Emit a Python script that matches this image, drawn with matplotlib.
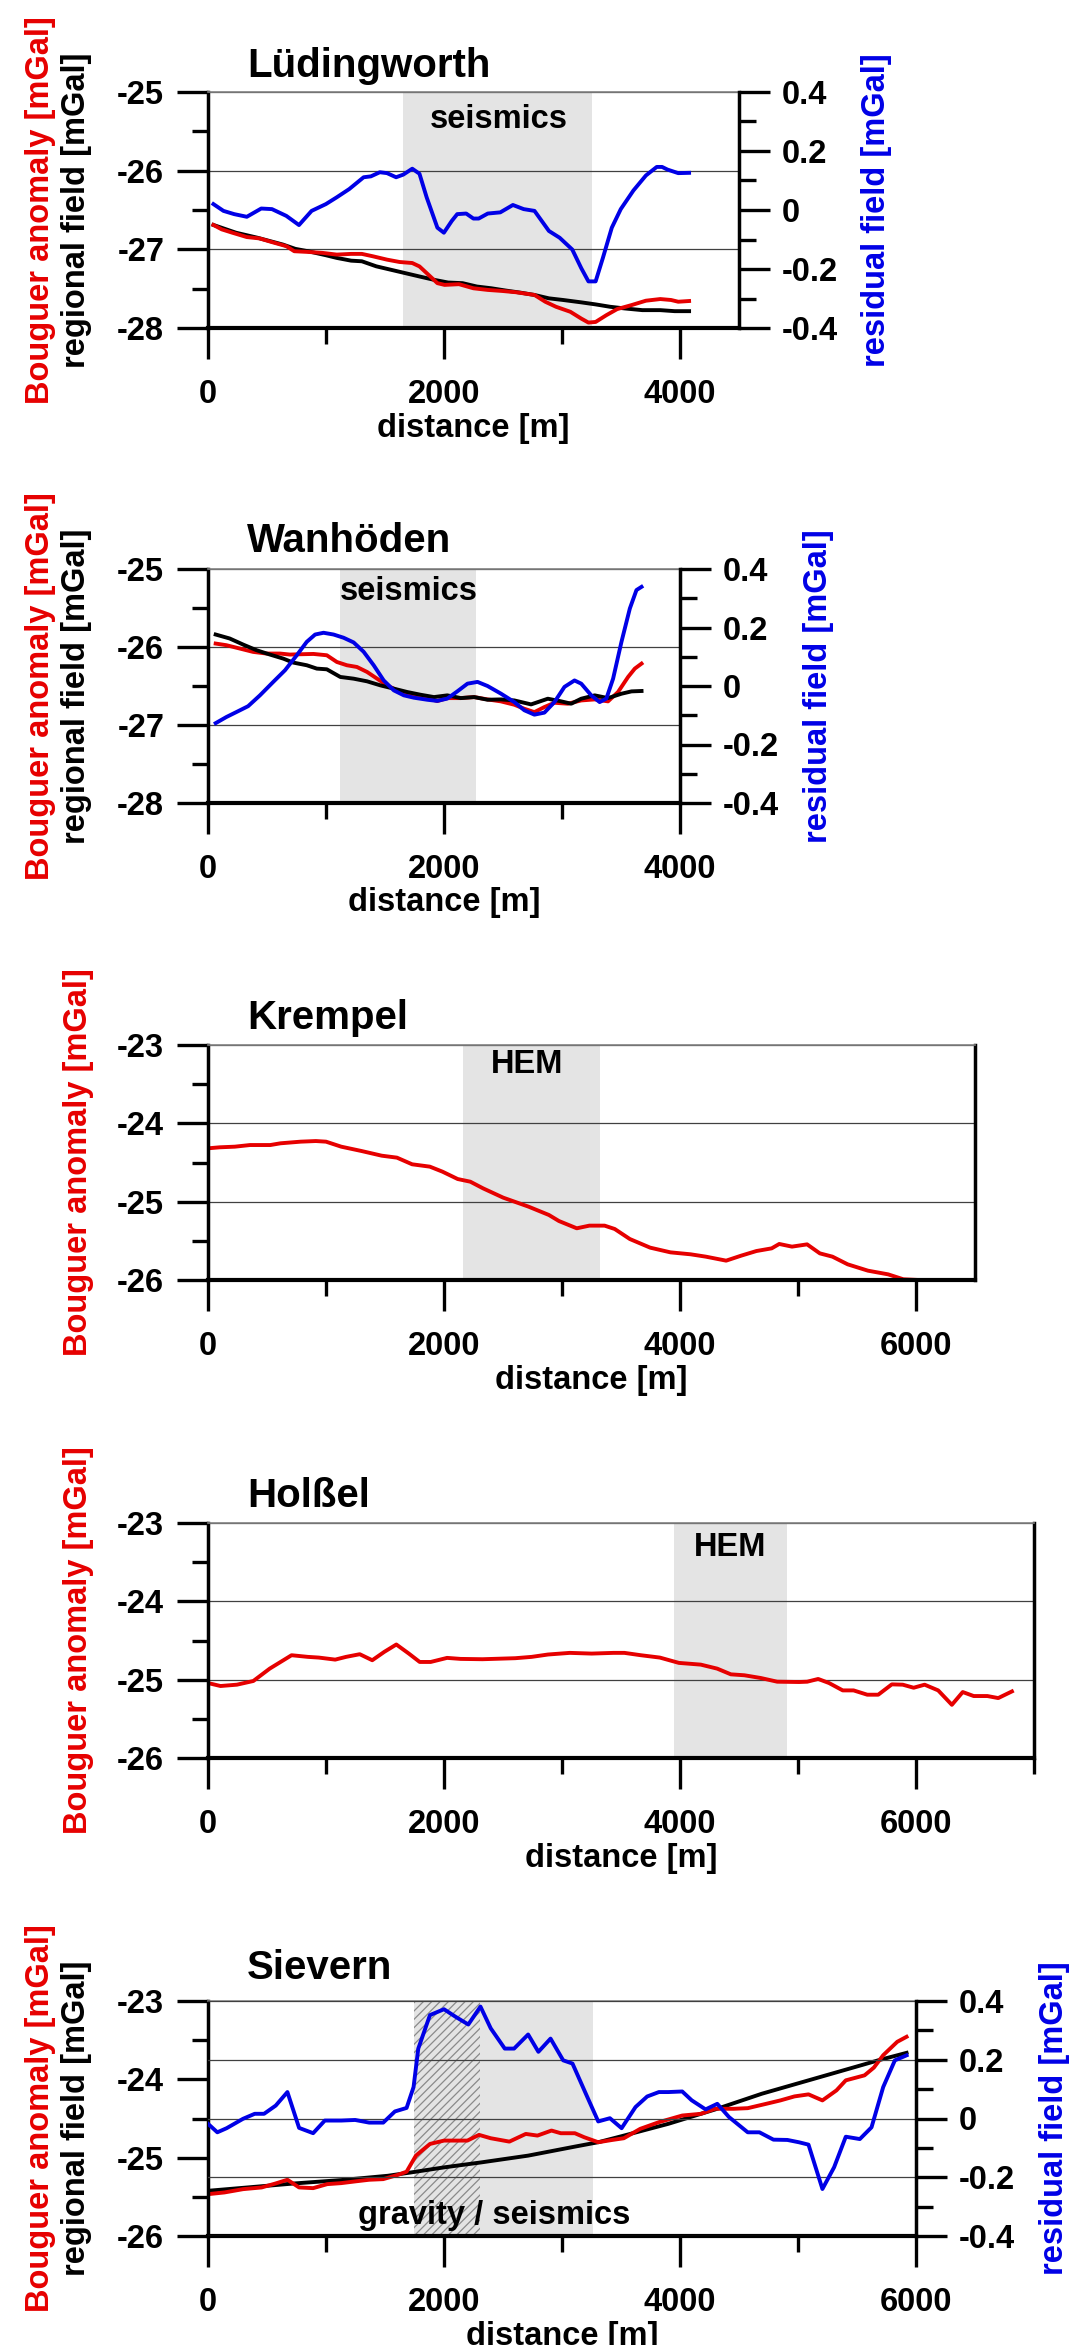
import matplotlib
matplotlib.use("Agg")
import matplotlib.pyplot as plt
from matplotlib.ticker import MultipleLocator, FuncFormatter

plt.rcParams["font.family"] = ["Liberation Sans", "DejaVu Sans"]
plt.rcParams["font.weight"] = "bold"
plt.rcParams["axes.unicode_minus"] = False
plt.rcParams["hatch.linewidth"] = 0.9

RED = "#e60000"
BLUE = "#0000e6"
BAND = "#e4e4e4"

# ---------------- data (distance in m, gravity in mGal) ----------------
LUED_BLUE_X = [46, 131, 222, 329, 451, 542, 664, 771, 878, 999, 1091, 1197, 1319, 1380, 1456,
               1517, 1594, 1655, 1731, 1792, 1853, 1944, 1999, 2066, 2112, 2188, 2249, 2294,
               2371, 2477, 2584, 2675, 2767, 2889, 2980, 3087, 3163, 3224, 3285, 3346, 3422,
               3498, 3605, 3711, 3803, 3848, 3894, 3985, 4077]
LUED_RESIDUAL = [0.020, -0.003, -0.014, -0.023, 0.005, 0.003, -0.020, -0.051, -0.003, 0.020,
                 0.043, 0.071, 0.111, 0.114, 0.128, 0.125, 0.111, 0.120, 0.140, 0.123, 0.043,
                 -0.060, -0.077, -0.037, -0.014, -0.012, -0.029, -0.029, -0.012, -0.008, 0.017,
                 0.003, -0.003, -0.071, -0.094, -0.134, -0.197, -0.242, -0.242, -0.163, -0.060,
                 0.003, 0.066, 0.117, 0.146, 0.146, 0.137, 0.125, 0.126]
LUED_RED_X = [46, 116, 207, 329, 436, 542, 664, 731, 847, 969, 1091, 1213, 1304, 1396, 1517,
              1624, 1731, 1792, 1853, 1944, 2005, 2127, 2249, 2371, 2492, 2614, 2767, 2858,
              2949, 3071, 3163, 3224, 3285, 3376, 3467, 3589, 3711, 3833, 3924, 3985, 4077]
LUED_BOUGUER = [-26.69, -26.746, -26.789, -26.844, -26.861, -26.908, -26.96, -27.024, -27.033,
                -27.045, -27.067, -27.058, -27.058, -27.088, -27.131, -27.161, -27.174, -27.217,
                -27.302, -27.43, -27.452, -27.443, -27.495, -27.516, -27.529, -27.546, -27.58,
                -27.666, -27.73, -27.794, -27.88, -27.931, -27.923, -27.837, -27.76, -27.709,
                -27.653, -27.632, -27.644, -27.666, -27.657]
LUED_BLACK_X = [46, 238, 420, 634, 740, 847, 999, 1091, 1213, 1304, 1426, 1548, 1670, 1792, 1914,
                2035, 2157, 2279, 2401, 2523, 2645, 2767, 2889, 3010, 3163, 3285, 3407, 3529,
                3681, 3833, 3955, 4077]
LUED_REGIONAL = [-26.69, -26.789, -26.853, -26.939, -26.994, -27.024, -27.075, -27.109, -27.144,
                 -27.152, -27.216, -27.259, -27.302, -27.345, -27.387, -27.422, -27.43, -27.473,
                 -27.495, -27.524, -27.55, -27.58, -27.623, -27.644, -27.674, -27.7, -27.73,
                 -27.751, -27.773, -27.773, -27.786, -27.786]
LUED_BAND = (1655, 3254)

WANH_BLUE_X = [65, 156, 241, 340, 440, 553, 653, 752, 837, 908, 979, 1064, 1149, 1234, 1319,
               1404, 1489, 1575, 1660, 1745, 1858, 1943, 2028, 2114, 2199, 2284, 2369, 2482,
               2596, 2681, 2766, 2851, 2936, 3021, 3106, 3163, 3248, 3319, 3376, 3433, 3504,
               3575, 3631, 3674]
WANH_RESIDUAL = [-0.127, -0.106, -0.089, -0.069, -0.032, 0.014, 0.054, 0.105, 0.151, 0.176,
                 0.182, 0.176, 0.165, 0.149, 0.117, 0.071, 0.019, -0.015, -0.032, -0.040,
                 -0.047, -0.051, -0.043, -0.018, 0.008, 0.014, 0.0, -0.026, -0.055, -0.083,
                 -0.098, -0.091, -0.055, -0.003, 0.019, 0.008, -0.032, -0.055, -0.043, 0.025,
                 0.151, 0.265, 0.328, 0.339]
WANH_RED_X = [65, 156, 270, 383, 496, 610, 695, 780, 894, 1007, 1092, 1177, 1262, 1348, 1433,
              1518, 1631, 1745, 1858, 1943, 2028, 2142, 2255, 2369, 2482, 2596, 2681, 2766,
              2851, 2936, 3050, 3163, 3277, 3390, 3475, 3560, 3617, 3674]
WANH_BOUGUER = [-25.956, -25.977, -26.02, -26.063, -26.084, -26.084, -26.097, -26.093, -26.089,
                -26.106, -26.192, -26.234, -26.256, -26.32, -26.406, -26.492, -26.577, -26.62,
                -26.655, -26.693, -26.655, -26.655, -26.642, -26.672, -26.697, -26.74, -26.792,
                -26.835, -26.77, -26.715, -26.727, -26.685, -26.672, -26.697, -26.577, -26.384,
                -26.277, -26.213]
WANH_BLACK_X = [65, 184, 298, 411, 525, 638, 723, 837, 922, 1007, 1121, 1234, 1348, 1461, 1575,
                1688, 1801, 1915, 2028, 2142, 2255, 2369, 2482, 2596, 2738, 2880, 2993, 3078,
                3163, 3277, 3390, 3504, 3589, 3674]
WANH_REGIONAL = [-25.84, -25.891, -25.969, -26.041, -26.097, -26.149, -26.2, -26.234, -26.277,
                 -26.286, -26.384, -26.406, -26.44, -26.492, -26.534, -26.577, -26.612, -26.642,
                 -26.62, -26.655, -26.642, -26.676, -26.672, -26.685, -26.736, -26.663, -26.697,
                 -26.727, -26.663, -26.62, -26.655, -26.599, -26.569, -26.564]
WANH_BAND = (1121, 2270)

KREM_X = [0, 99, 227, 356, 528, 614, 785, 914, 1000, 1129, 1300, 1472, 1601, 1730, 1880, 1987,
          2116, 2223, 2331, 2502, 2717, 2889, 2974, 3125, 3232, 3361, 3447, 3575, 3747, 3919,
          4090, 4219, 4391, 4519, 4648, 4777, 4841, 4949, 5077, 5185, 5292, 5421, 5593, 5764,
          5893, 6022, 6107]
KREM_BOUGUER = [-24.319, -24.306, -24.298, -24.277, -24.277, -24.255, -24.234, -24.226, -24.234,
                -24.298, -24.353, -24.413, -24.438, -24.523, -24.553, -24.617, -24.711, -24.745,
                -24.83, -24.949, -25.064, -25.17, -25.247, -25.34, -25.306, -25.306, -25.349,
                -25.477, -25.587, -25.647, -25.672, -25.702, -25.753, -25.689, -25.63, -25.596,
                -25.54, -25.574, -25.545, -25.66, -25.702, -25.8, -25.881, -25.928, -25.991,
                -26.0, -26.0]
KREM_BAND = (2159, 3318)

HOLS_X = [0, 106, 245, 384, 523, 708, 846, 939, 1078, 1170, 1286, 1392, 1494, 1596, 1702, 1794,
          1887, 2026, 2141, 2326, 2604, 2743, 2881, 3066, 3251, 3436, 3529, 3668, 3829, 3991,
          4176, 4315, 4431, 4546, 4685, 4824, 5009, 5078, 5171, 5263, 5379, 5471, 5587, 5680,
          5795, 5888, 5980, 6073, 6188, 6304, 6396, 6489, 6605, 6697, 6813]
HOLS_BOUGUER = [-25.043, -25.081, -25.064, -25.017, -24.859, -24.688, -24.709, -24.718, -24.744,
                -24.709, -24.675, -24.752, -24.645, -24.551, -24.667, -24.774, -24.774, -24.722,
                -24.735, -24.739, -24.726, -24.709, -24.679, -24.658, -24.667, -24.658, -24.658,
                -24.688, -24.718, -24.786, -24.808, -24.859, -24.932, -24.944, -24.979, -25.026,
                -25.03, -25.026, -24.991, -25.043, -25.137, -25.137, -25.192, -25.192, -25.06,
                -25.064, -25.103, -25.064, -25.137, -25.321, -25.158, -25.209, -25.209, -25.235,
                -25.15]
HOLS_BAND = (3945, 4903)

SIEV_BLUE_X = [0, 79, 158, 297, 396, 475, 574, 673, 772, 891, 990, 1129, 1247, 1366, 1485, 1584,
               1683, 1742, 1782, 1881, 2000, 2099, 2206, 2309, 2396, 2515, 2594, 2713, 2800,
               2903, 3010, 3089, 3208, 3307, 3406, 3505, 3623, 3722, 3821, 3901, 4019, 4099,
               4217, 4316, 4415, 4574, 4673, 4792, 4910, 5009, 5089, 5207, 5306, 5405, 5524,
               5623, 5722, 5821, 5920]
SIEV_RESIDUAL = [-0.018, -0.047, -0.033, -0.001, 0.016, 0.016, 0.044, 0.09, -0.032, -0.05,
                 -0.007, -0.007, -0.005, -0.014, -0.014, 0.024, 0.036, 0.107, 0.238, 0.352,
                 0.372, 0.346, 0.32, 0.381, 0.307, 0.238, 0.238, 0.286, 0.227, 0.272, 0.198,
                 0.187, 0.079, -0.01, 0.001, -0.033, 0.039, 0.075, 0.09, 0.09, 0.092, 0.062,
                 0.031, 0.05, 0.005, -0.047, -0.047, -0.072, -0.073, -0.081, -0.089, -0.24,
                 -0.166, -0.062, -0.07, -0.03, 0.107, 0.198, 0.215]
SIEV_RED_X = [0, 139, 297, 455, 574, 673, 772, 891, 1010, 1129, 1247, 1366, 1485, 1604, 1683,
              1762, 1881, 2000, 2198, 2297, 2396, 2554, 2693, 2792, 2911, 2990, 3109, 3188, 3307,
              3425, 3524, 3663, 3821, 4019, 4178, 4297, 4455, 4574, 4732, 4851, 4970, 5089,
              5207, 5326, 5405, 5564, 5643, 5722, 5841, 5920]
SIEV_BOUGUER = [-25.466, -25.444, -25.402, -25.38, -25.329, -25.282, -25.38, -25.389, -25.338,
                -25.325, -25.303, -25.282, -25.274, -25.222, -25.179, -24.974, -24.825, -24.782,
                -24.782, -24.709, -24.752, -24.795, -24.697, -24.718, -24.654, -24.688, -24.688,
                -24.739, -24.803, -24.774, -24.752, -24.632, -24.547, -24.462, -24.44, -24.376,
                -24.376, -24.368, -24.312, -24.269, -24.218, -24.192, -24.269, -24.141, -24.013,
                -23.949, -23.85, -23.692, -23.521, -23.457]
SIEV_BLACK_X = [0, 337, 733, 1129, 1525, 1723, 2000, 2317, 2713, 3109, 3307, 3505, 3901, 4297,
                4693, 5089, 5485, 5683, 5920]
SIEV_REGIONAL = [-25.423, -25.38, -25.329, -25.286, -25.231, -25.188, -25.124, -25.06, -24.974,
                 -24.859, -24.803, -24.726, -24.568, -24.385, -24.184, -24.013, -23.842, -23.756,
                 -23.662]
SIEV_BAND = (1742, 3259)
SIEV_HATCH = (1742, 2309)

# ---------------- layout ----------------
W, H = 1070, 2345
fig = plt.figure(figsize=(W / 100, H / 100), dpi=100)
fig.patch.set_facecolor("white")

LEFT = 208
PX_PER_KM = 118
TICK_FS = 23.5
LABEL_FS = 23.5


def fx(px):
    return px / W


def fy(py):
    return 1 - py / H


def int_fmt(v, _):
    return f"{int(round(v))}"


def dec_fmt(v, _):
    return f"{round(v, 1) + 0.0:g}"


def make_axes(top, bottom, xmax, ylim):
    right = LEFT + xmax / 1000 * PX_PER_KM
    ax = fig.add_axes([fx(LEFT), fy(bottom), (right - LEFT) / W, (bottom - top) / H])
    ax.set_xlim(0, xmax)
    ax.set_ylim(*ylim)
    ax.xaxis.set_major_locator(MultipleLocator(2000))
    ax.xaxis.set_minor_locator(MultipleLocator(1000))
    ax.yaxis.set_major_locator(MultipleLocator(1))
    ax.yaxis.set_minor_locator(MultipleLocator(0.5))
    ax.xaxis.set_major_formatter(FuncFormatter(int_fmt))
    ax.yaxis.set_major_formatter(FuncFormatter(int_fmt))
    ax.tick_params(which="major", direction="out", length=22.5, width=2.4, labelsize=TICK_FS)
    ax.tick_params(which="minor", direction="out", length=11.5, width=2.4)
    ax.tick_params(axis="x", which="major", pad=14)
    ax.tick_params(axis="y", which="major", pad=9)
    ax.tick_params(which="both", top=False, right=False)
    ax.spines["left"].set_linewidth(2.5)
    ax.spines["bottom"].set_linewidth(3.0)
    ax.spines["right"].set_linewidth(2.5)
    ax.spines["top"].set_color("#808080")
    ax.spines["top"].set_linewidth(1.2)
    ax.set_axisbelow(True)
    return ax, right


def add_twin(ax):
    ax2 = ax.twinx()
    ax2.set_ylim(-0.4, 0.4)
    ax2.yaxis.set_major_locator(MultipleLocator(0.2))
    ax2.yaxis.set_minor_locator(MultipleLocator(0.1))
    ax2.yaxis.set_major_formatter(FuncFormatter(dec_fmt))
    ax2.tick_params(which="major", direction="out", length=22.5, width=2.4,
                    labelsize=TICK_FS, pad=8)
    ax2.tick_params(which="minor", direction="out", length=12, width=2.4)
    for s in ("left", "top", "bottom"):
        ax2.spines[s].set_visible(False)
    ax2.spines["right"].set_linewidth(2.5)
    ax.spines["right"].set_visible(False)
    return ax2


def labels(title, title_base, top, bottom, right, dual, residual):
    mid = (top + bottom) / 2
    fig.text(fx(247), fy(title_base), title, fontsize=29, ha="left", va="baseline")
    fig.text(fx((LEFT + right) / 2), fy(bottom + 100), "distance [m]", fontsize=LABEL_FS,
             ha="center", va="center")
    if dual:
        fig.text(fx(41), fy(mid), "Bouguer anomaly [mGal]", color=RED, fontsize=LABEL_FS,
                 rotation=90, ha="center", va="center")
        fig.text(fx(77), fy(mid), "regional field [mGal]", color="black", fontsize=LABEL_FS,
                 rotation=90, ha="center", va="center")
    else:
        fig.text(fx(79), fy(mid), "Bouguer anomaly [mGal]", color=RED, fontsize=LABEL_FS,
                 rotation=90, ha="center", va="center")
    if residual:
        fig.text(fx(right + 138), fy(mid), "residual field [mGal]", color=BLUE,
                 fontsize=LABEL_FS, rotation=90, ha="center", va="center")


GRID = dict(color="#404040", linewidth=0.9)
LW = 2.8

# ---- Lüdingworth ----
ax, right = make_axes(92, 328, 4500, (-28, -25))
ax.grid(axis="y", which="major", **GRID)
ax.axvspan(*LUED_BAND, color=BAND, lw=0, zorder=0.2)
ax.text(2465, -25.355, "seismics", fontsize=LABEL_FS, ha="center", va="center", zorder=3)
ax.plot(LUED_BLACK_X, LUED_REGIONAL, color="black", lw=LW)
ax.plot(LUED_RED_X, LUED_BOUGUER, color=RED, lw=LW)
ax2 = add_twin(ax)
ax2.plot(LUED_BLUE_X, LUED_RESIDUAL, color=BLUE, lw=LW)
labels("Lüdingworth", 77, 92, 328, right, True, True)

# ---- Wanhöden ----
ax, right = make_axes(569, 803, 4000, (-28, -25))
ax.grid(axis="y", which="major", **GRID)
ax.axvspan(*WANH_BAND, color=BAND, lw=0, zorder=0.2)
ax.text(1699, -25.29, "seismics", fontsize=LABEL_FS, ha="center", va="center", zorder=3)
ax.plot(WANH_RED_X, WANH_BOUGUER, color=RED, lw=LW)
ax.plot(WANH_BLACK_X, WANH_REGIONAL, color="black", lw=LW)
ax2 = add_twin(ax)
ax2.plot(WANH_BLUE_X, WANH_RESIDUAL, color=BLUE, lw=LW)
labels("Wanhöden", 552, 569, 803, right, True, True)

# ---- Krempel ----
ax, right = make_axes(1045, 1280, 6500, (-26, -23))
ax.grid(axis="y", which="major", **GRID)
ax.axvspan(*KREM_BAND, color=BAND, lw=0, zorder=0.2)
ax.text(2700, -23.255, "HEM", fontsize=LABEL_FS, ha="center", va="center", zorder=3)
ax.plot(KREM_X, KREM_BOUGUER, color=RED, lw=LW)
labels("Krempel", 1029, 1045, 1280, right, False, False)

# ---- Holßel ----
ax, right = make_axes(1523, 1758, 7000, (-26, -23))
ax.grid(axis="y", which="major", **GRID)
ax.axvspan(*HOLS_BAND, color=BAND, lw=0, zorder=0.2)
ax.text(4421, -23.31, "HEM", fontsize=LABEL_FS, ha="center", va="center", zorder=3)
ax.plot(HOLS_X, HOLS_BOUGUER, color=RED, lw=LW)
labels("Holßel", 1507, 1523, 1758, right, False, False)

# ---- Sievern ----
ax, right = make_axes(2001, 2236, 6000, (-26, -23))
ax.axvspan(*SIEV_BAND, color=BAND, lw=0, zorder=0.2)
ax.axvspan(*SIEV_HATCH, facecolor=BAND, edgecolor="#8a8a8a", hatch="////", lw=0, zorder=0.3)
ax.text(2427, -25.74, "gravity / seismics", fontsize=LABEL_FS, ha="center", va="center",
        zorder=3)
ax.plot(SIEV_BLACK_X, SIEV_REGIONAL, color="black", lw=LW)
ax.plot(SIEV_RED_X, SIEV_BOUGUER, color=RED, lw=LW)
ax2 = add_twin(ax)
ax2.grid(axis="y", which="major", **GRID)
ax2.plot(SIEV_BLUE_X, SIEV_RESIDUAL, color=BLUE, lw=LW)
labels("Sievern", 1979, 2001, 2236, right, True, True)

fig.savefig("out.png", dpi=100)
